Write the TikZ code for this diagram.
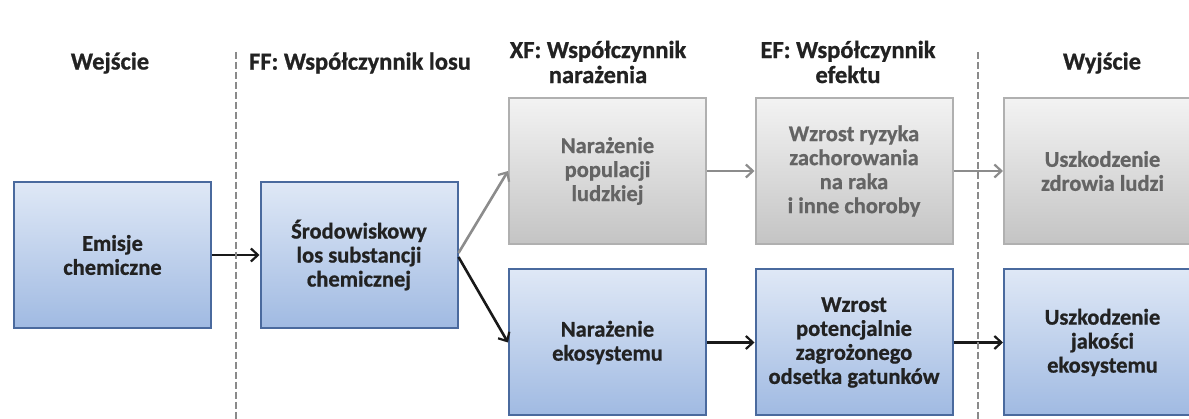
\documentclass[tikz,border=0pt]{standalone}
\usepackage{fontspec}
\setmainfont{Carlito}[BoldFeatures={FakeBold=0.8}]
\usetikzlibrary{arrows.meta}
\definecolor{blueTop}{HTML}{DFE8F6}
\definecolor{blueBot}{HTML}{A0BAE2}
\definecolor{blueEdge}{HTML}{4A6A9E}
\definecolor{greyTop}{HTML}{F3F3F3}
\definecolor{greyBot}{HTML}{C4C4C4}
\definecolor{greyEdge}{HTML}{B0B0B0}
\definecolor{greyText}{HTML}{646464}
\definecolor{darkText}{HTML}{222222}
\definecolor{sepGrey}{HTML}{8A8A8A}
\definecolor{arrGrey}{HTML}{8C8C8C}
\begin{document}
\begin{tikzpicture}[x=1pt,y=-1pt,
  box/.style={minimum width=197pt,minimum height=146pt,inner sep=0pt,line width=2pt,align=center,
    font=\fontsize{22.5}{24}\selectfont\bfseries},
  bluebox/.style={box,draw=blueEdge,top color=blueTop,bottom color=blueBot,text=darkText},
  greybox/.style={box,draw=greyEdge,top color=greyTop,bottom color=greyBot,text=greyText},
  title/.style={font=\fontsize{24.5}{25}\selectfont\bfseries,text=darkText,align=center},
  sep/.style={draw=sepGrey,line width=1.6pt,dash pattern=on 7pt off 3pt},
  blk/.style={-{Straight Barb[length=7pt,width=13pt,line width=2.2pt]},line width=2.6pt,draw=black!90},
  gry/.style={-{Straight Barb[length=7pt,width=13pt,line width=2.2pt]},line width=2.6pt,draw=arrGrey}]
\useasboundingbox (0,0) rectangle (1189,419);
\clip (0,0) rectangle (1189,419);
\fill[white] (0,0) rectangle (1189,419);

% separators
\coordinate (s1t) at (236,52);
\coordinate (s1b) at (236,419);
\coordinate (s2t) at (978,52);
\coordinate (s2b) at (978,419);

% titles
\node[title] (t1) at (110,63) {Wejście};
\node[title] (t2) at (360,63) {FF: Współczynnik losu};
\node[title] (t3) at (598,62) {XF: Współczynnik\\narażenia};
\node[title] (t4) at (848,62) {EF: Współczynnik\\efektu};
\node[title] (t5) at (1102,63) {Wyjście};

% boxes
\node[bluebox] (em) at (112.5,255) {Emisje\\chemiczne};
\node[bluebox] (sr) at (359,255) {Środowiskowy\\los substancji\\chemicznej};
\node[greybox] (np) at (607.5,171) {Narażenie\\populacji\\ludzkiej};
\node[greybox] (wr) at (854,171) {Wzrost ryzyka\\zachorowania\\na raka\\i inne choroby};
\node[greybox] (uz) at (1102.5,171) {Uszkodzenie\\zdrowia ludzi};
\node[bluebox] (ne) at (607.5,342.5) {Narażenie\\ekosystemu};
\node[bluebox] (wp) at (854,342.5) {Wzrost\\potencjalnie\\zagrożonego\\odsetka gatunków};
\node[bluebox] (uj) at (1102.5,342.5) {Uszkodzenie\\jakości\\ekosystemu};

% connectors
\draw[blk] (em.east) -- (sr.west);
\draw[gry] ([yshift=2pt]sr.east) -- (np.west);
\draw[blk] ([yshift=-2pt]sr.east) -- (ne.west);
\draw[gry] (np.east) -- (wr.west);
\draw[gry] (wr.east) -- (uz.west);
\draw[blk] (ne.east) -- (wp.west);
\draw[blk] (wp.east) -- (uj.west);

\draw[sep] (s1t) -- (s1b);
\draw[sep] (s2t) -- (s2b);
\end{tikzpicture}
\end{document}
